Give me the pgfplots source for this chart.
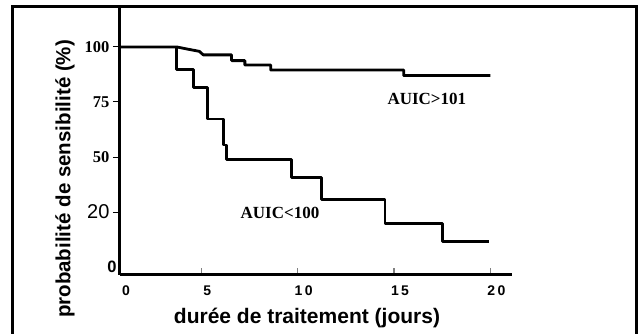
\documentclass[border=0pt]{standalone}
\usepackage{pgfplots}
\pgfplotsset{compat=1.18}
\usepackage{fontspec}
\setmainfont{Liberation Sans}
\newfontfamily\serif{Liberation Serif}

\begin{document}
\begin{tikzpicture}[x=1pt,y=1pt]
\path[use as bounding box] (0,0) rectangle (638,334);
\draw[line width=3pt] (12.5,-5) -- (12.5,327.5) -- (636.5,327.5) -- (636.5,-5);
\begin{axis}[
 at={(120pt,59pt)}, anchor=south west,
 scale only axis, width=392pt, height=267pt,
 xmin=0.78, xmax=21.12, ymin=-3.6, ymax=117.7,
 axis lines*=left,
 axis line style={line width=3pt},
 /pgf/number format/assume math mode=true,
 xtick={0.78,5,10,15,20},
 xticklabels={0,5,1\,0,1\,5,2\,0},
 ytick={25,50,75,100},
 yticklabels={{\fontsize{20}{20}\selectfont\mdseries 20},{\serif 50},{\serif 75},{\serif 100}},
 extra y ticks={0},
 extra y tick labels={\bfseries 0},
 extra y tick style={major tick length=0pt},
 tick align=outside,
 major tick length=7pt,
 x tick style={gray, line width=1.5pt, yshift=7pt},
 y tick style={black, line width=1pt},
 xticklabel style={font=\fontsize{14}{14}\selectfont\bfseries, xshift=6pt},
 yticklabel style={font=\fontsize{16.5}{16.5}\selectfont\bfseries},
 clip=false,
]
\addplot[line width=2.8pt, black, line join=round] coordinates {
 (0.78,100) (3.72,100) (4.3,99) (4.9,98) (5.1,96.4) (6.57,96.4) (6.57,93.8)
 (7.26,93.8) (7.26,91.8) (8.6,91.8) (8.6,89.5) (15.5,89.5) (15.5,87) (20,87)
};
\addplot[line width=2.8pt, black, line join=round] coordinates {
 (0.78,100) (3.72,100) (3.72,89.8) (4.58,89.8) (4.58,81.7) (5.31,81.7)
 (5.31,67.3) (6.14,67.3) (6.14,55.5) (6.31,55.5) (6.31,49) (9.69,49)
 (9.69,40.8) (11.25,40.8) (11.25,30.8) (14.53,30.8) (14.53,19.9)
 (17.5,19.9) (17.5,11.5) (19.94,11.5)
};
\node[font=\serif\bfseries\fontsize{17}{17}\selectfont] at (axis cs:16.7,76.4) {AUIC>101};
\node[font=\serif\bfseries\fontsize{17}{17}\selectfont] at (axis cs:9.08,24.7) {AUIC<100};
\end{axis}
\node[rotate=90, font=\bfseries\fontsize{20.5}{20.5}\selectfont] at (65,155) {probabilité de sensibilité (\%)};
\node[font=\bfseries\fontsize{21}{21}\selectfont] at (307,16) {durée de traitement (jours)};
\end{tikzpicture}
\end{document}
